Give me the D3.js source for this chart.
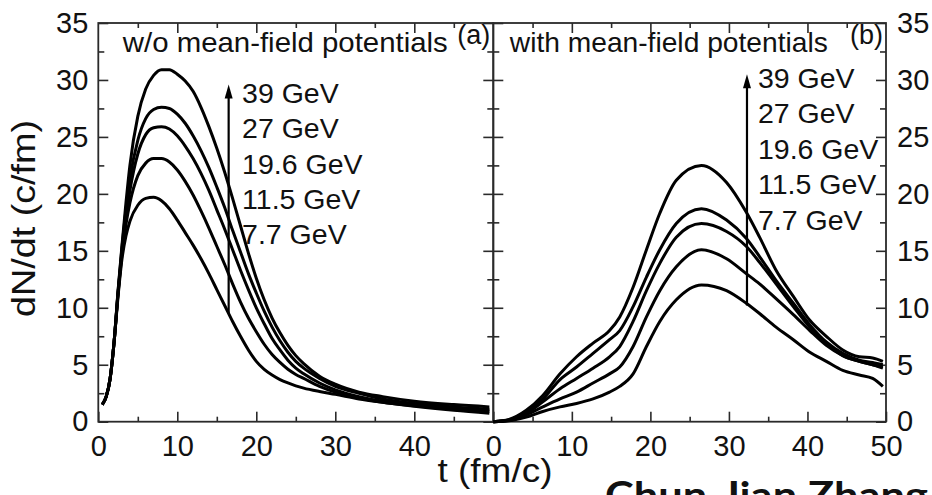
<!DOCTYPE html>
<html>
<head>
<meta charset="utf-8">
<script src="https://cdn.jsdelivr.net/npm/d3@7"></script>
<style>
  body { margin: 0; background: #fff; }
  svg { display: block; }
  text { font-family: "Liberation Sans", Arial, Helvetica, sans-serif; fill: #111; }
</style>
</head>
<body>
<div id="chart"></div>
<script>
// ---- data ----
var energies = ['39 GeV', '27 GeV', '19.6 GeV', '11.5 GeV', '7.7 GeV'];

// panel (a): w/o mean-field potentials
var tLeft = [0.5, 1, 1.5, 2, 2.5, 3, 3.5, 4, 5, 6, 7, 8, 9, 10, 11, 12, 13, 14, 15, 16, 17, 18, 19, 20,
             21, 22, 23, 24, 25, 26, 28, 30, 33, 36, 40, 45, 49.5];
var left39  = [1.5, 2.2, 3.8, 7.0, 11.5, 15.5, 19.2, 22.5, 26.8, 29.2, 30.4, 30.9, 30.9, 30.5, 29.9, 29.0, 27.6, 25.9, 24.0, 21.9, 19.6, 17.2, 14.8, 12.6,
               10.7, 9.1, 7.8, 6.7, 5.8, 5.1, 4.0, 3.3, 2.6, 2.2, 1.8, 1.5, 1.3];
var left27  = [1.5, 2.2, 3.8, 7.0, 11.4, 15.3, 18.6, 21.3, 24.7, 26.6, 27.4, 27.6, 27.5, 27.0, 26.2, 25.1, 23.8, 22.3, 20.6, 18.8, 16.8, 14.9, 13.0, 11.3,
               9.7, 8.3, 7.1, 6.1, 5.3, 4.7, 3.8, 3.1, 2.5, 2.0, 1.6, 1.3, 1.1];
var left196 = [1.5, 2.2, 3.8, 7.0, 11.3, 15.0, 18.0, 20.3, 23.5, 25.2, 25.8, 25.9, 25.7, 25.1, 24.2, 23.1, 21.8, 20.3, 18.6, 16.9, 15.1, 13.3, 11.6, 10.0,
               8.6, 7.3, 6.3, 5.4, 4.7, 4.2, 3.4, 2.8, 2.2, 1.8, 1.5, 1.2, 1.0];
var left115 = [1.5, 2.2, 3.8, 7.0, 11.2, 14.7, 17.3, 19.2, 21.6, 22.7, 23.1, 23.1, 22.8, 22.1, 21.1, 19.9, 18.5, 17.0, 15.4, 13.8, 12.1, 10.5, 9.1, 7.9,
               6.8, 5.9, 5.2, 4.6, 4.15, 3.8, 3.1, 2.6, 2.1, 1.7, 1.4, 1.1, 0.9];
var left77  = [1.5, 2.2, 3.8, 7.0, 11.0, 14.3, 16.3, 17.6, 19.0, 19.6, 19.7, 19.4, 18.7, 17.7, 16.6, 15.5, 14.3, 13.0, 11.6, 10.2, 8.8, 7.5, 6.3, 5.3,
               4.6, 4.1, 3.7, 3.4, 3.15, 2.95, 2.65, 2.4, 2.0, 1.7, 1.35, 1.0, 0.75];

// panel (b): with mean-field potentials
var tRight = [0, 2, 4.2, 6.3, 8.5, 10.6, 12.7, 14.8, 16.1, 17.8, 19.5, 21.2, 23.3, 26.5, 29.7, 32.2, 33.9, 36.0, 38.2, 40.3, 42.4, 44.5, 46.6, 48.3, 49.6];
var right39  = [0, 0.2, 1.0, 2.3, 4.2, 5.7, 6.9, 8.0, 9.2, 11.8, 15.1, 18.3, 21.2, 22.5, 21.0, 18.4, 16.2, 13.3, 11.0, 8.9, 7.5, 6.3, 5.7, 5.6, 5.3];
var right27  = [0, 0.15, 0.9, 2.0, 3.7, 4.8, 6.0, 7.2, 8.0, 10.1, 12.7, 15.1, 17.4, 18.7, 17.7, 16.1, 14.5, 12.4, 10.4, 8.5, 7.0, 6.0, 5.4, 5.2, 5.0];
var right196 = [0, 0.12, 0.7, 1.75, 2.9, 3.8, 4.7, 5.7, 6.6, 8.8, 11.5, 13.9, 16.2, 17.4, 16.7, 15.4, 14.0, 12.1, 10.1, 8.3, 6.9, 5.8, 5.3, 5.0, 4.7];
var right115 = [0, 0.1, 0.6, 1.3, 2.0, 2.6, 3.4, 4.2, 4.8, 6.6, 9.2, 11.5, 13.6, 15.1, 14.3, 13.0, 12.1, 10.8, 9.4, 8.0, 6.7, 5.8, 5.3, 5.0, 4.8];
var right77  = [0, 0.08, 0.4, 0.9, 1.3, 1.6, 2.0, 2.6, 3.1, 4.2, 6.6, 8.8, 10.7, 12.0, 11.5, 10.4, 9.5, 8.3, 7.2, 6.1, 5.3, 4.5, 4.1, 3.8, 3.1];

// arrows: [t, from, to]
var arrowLeft  = [16.5, 9.5, 29.6];
var arrowRight = [32.3, 10.2, 30.5];

var xMajor = [0, 10, 20, 30, 40, 50];
var xMinor = [5, 15, 25, 35, 45];
var yMajor = [0, 5, 10, 15, 20, 25, 30, 35];
var yMinor = [2.5, 7.5, 12.5, 17.5, 22.5, 27.5, 32.5];

// ---- layout ----
var W = 932, H = 495;
var svg = d3.select('#chart').append('svg')
    .attr('width', W)
    .attr('height', H);

svg.append('rect').attr('width', W).attr('height', H).attr('fill', '#fff');

var y  = d3.scaleLinear().domain([0, 35]).range([421.7, 23]);
var xL = d3.scaleLinear().domain([0, 50]).range([98.3, 493.3]);
var xR = d3.scaleLinear().domain([0, 50]).range([493.3, 886]);

var frameColor = '#2a2a2a';

function styleAxis(g) {
    g.select('.domain').remove();
    g.selectAll('.tick line').attr('stroke', frameColor).attr('stroke-width', 1.6);
    g.selectAll('text')
        .attr('font-family', '"Liberation Sans", Arial, sans-serif')
        .attr('font-size', 29)
        .attr('fill', '#111');
}

function drawAxis(axisFn, scale, transform, values, size, labels, pad) {
    var ax = axisFn(scale)
        .tickValues(values)
        .tickSizeInner(-size)
        .tickSizeOuter(0)
        .tickPadding(pad || 3)
        .tickFormat(labels ? d3.format('d') : '');
    svg.append('g')
        .attr('transform', transform)
        .call(ax)
        .call(styleAxis);
}

function drawPanel(x, opt) {
    var x0 = x.range()[0], x1 = x.range()[1];
    // bottom
    drawAxis(d3.axisBottom, x, 'translate(0,' + y(0) + ')', opt.xLabels, 10, true, 14);
    drawAxis(d3.axisBottom, x, 'translate(0,' + y(0) + ')', xMinor, 5, false);
    // top
    drawAxis(d3.axisTop, x, 'translate(0,' + y(35) + ')', [10, 20, 30, 40], 10, false);
    drawAxis(d3.axisTop, x, 'translate(0,' + y(35) + ')', xMinor, 5, false);
    // left side
    drawAxis(d3.axisLeft, y, 'translate(' + x0 + ',0)', yMajor, 10, opt.leftLabels, 10);
    drawAxis(d3.axisLeft, y, 'translate(' + x0 + ',0)', yMinor, 6, false);
    // right side
    drawAxis(d3.axisRight, y, 'translate(' + x1 + ',0)', yMajor, 10, opt.rightLabels, 11);
    drawAxis(d3.axisRight, y, 'translate(' + x1 + ',0)', yMinor, 6, false);

    svg.append('rect')
        .attr('x', x0).attr('y', y(35))
        .attr('width', x1 - x0).attr('height', y(0) - y(35))
        .attr('fill', 'none')
        .attr('stroke', frameColor)
        .attr('stroke-width', 1.8);

    var line = d3.line()
        .x(function (d) { return x(d[0]); })
        .y(function (d) { return y(d[1]); })
        .curve(d3.curveMonotoneX);

    svg.append('g').selectAll('path')
        .data(opt.series)
        .join('path')
        .attr('d', function (s) { return line(d3.zip(opt.t, s)); })
        .attr('fill', 'none')
        .attr('stroke', '#000')
        .attr('stroke-width', 3)
        .attr('stroke-linejoin', 'round');

    // arrow
    var a = opt.arrow;
    var ax = x(a[0]), ayTop = y(a[2]), ayBot = y(a[1]);
    svg.append('line')
        .attr('x1', ax).attr('x2', ax)
        .attr('y1', ayBot).attr('y2', ayTop + 10)
        .attr('stroke', '#000').attr('stroke-width', 2.2);
    svg.append('path')
        .attr('d', 'M' + ax + ',' + ayTop + 'L' + (ax - 4) + ',' + (ayTop + 14) + 'L' + (ax + 4) + ',' + (ayTop + 14) + 'Z')
        .attr('fill', '#000');

    // energy labels
    svg.append('g').selectAll('text')
        .data(energies)
        .join('text')
        .attr('x', x(opt.labelT))
        .attr('y', function (d, i) { return y(opt.labelY) + i * 35.4; })
        .attr('font-size', 28.5)
        .text(function (d) { return d; });

    svg.append('text')
        .attr('x', x(opt.titleT)).attr('y', 52)
        .attr('font-size', 28.5)
        .attr('textLength', opt.titleLen)
        .attr('lengthAdjust', 'spacingAndGlyphs')
        .text(opt.title);

    svg.append('text')
        .attr('x', x1 - 3).attr('y', 44)
        .attr('text-anchor', 'end')
        .attr('font-size', 27)
        .text(opt.tag);
}

drawPanel(xL, {
    t: tLeft,
    series: [left39, left27, left196, left115, left77],
    arrow: arrowLeft,
    labelT: 18.2, labelY: 28.0,
    xLabels: [0, 10, 20, 30, 40],
    leftLabels: true, rightLabels: false,
    title: 'w/o mean-field potentials', titleT: 3.1, titleLen: 325,
    tag: '(a)'
});

drawPanel(xR, {
    t: tRight,
    series: [right39, right27, right196, right115, right77],
    arrow: arrowRight,
    labelT: 33.7, labelY: 29.3,
    xLabels: xMajor,
    leftLabels: false, rightLabels: true,
    title: 'with mean-field potentials', titleT: 2.1, titleLen: 318,
    tag: '(b)'
});

// axis titles
svg.append('text')
    .attr('transform', 'translate(35,218.5) rotate(-90)')
    .attr('text-anchor', 'middle')
    .attr('font-size', 33)
    .attr('textLength', 197)
    .attr('lengthAdjust', 'spacingAndGlyphs')
    .text('dN/dt (c/fm)');

svg.append('text')
    .attr('x', 495).attr('y', 482)
    .attr('text-anchor', 'middle')
    .attr('font-size', 33)
    .attr('textLength', 115)
    .attr('lengthAdjust', 'spacingAndGlyphs')
    .text('t (fm/c)');

// author overlay (cut at the bottom edge, as in the source image)
svg.append('text')
    .attr('x', 605).attr('y', 509)
    .attr('font-weight', 'bold')
    .attr('font-size', 38)
    .attr('textLength', 323)
    .attr('lengthAdjust', 'spacingAndGlyphs')
    .attr('fill', '#000')
    .style('font-family', 'Lato, "Open Sans", sans-serif')
    .text('Chun-Jian Zhang');
</script>
</body>
</html>
